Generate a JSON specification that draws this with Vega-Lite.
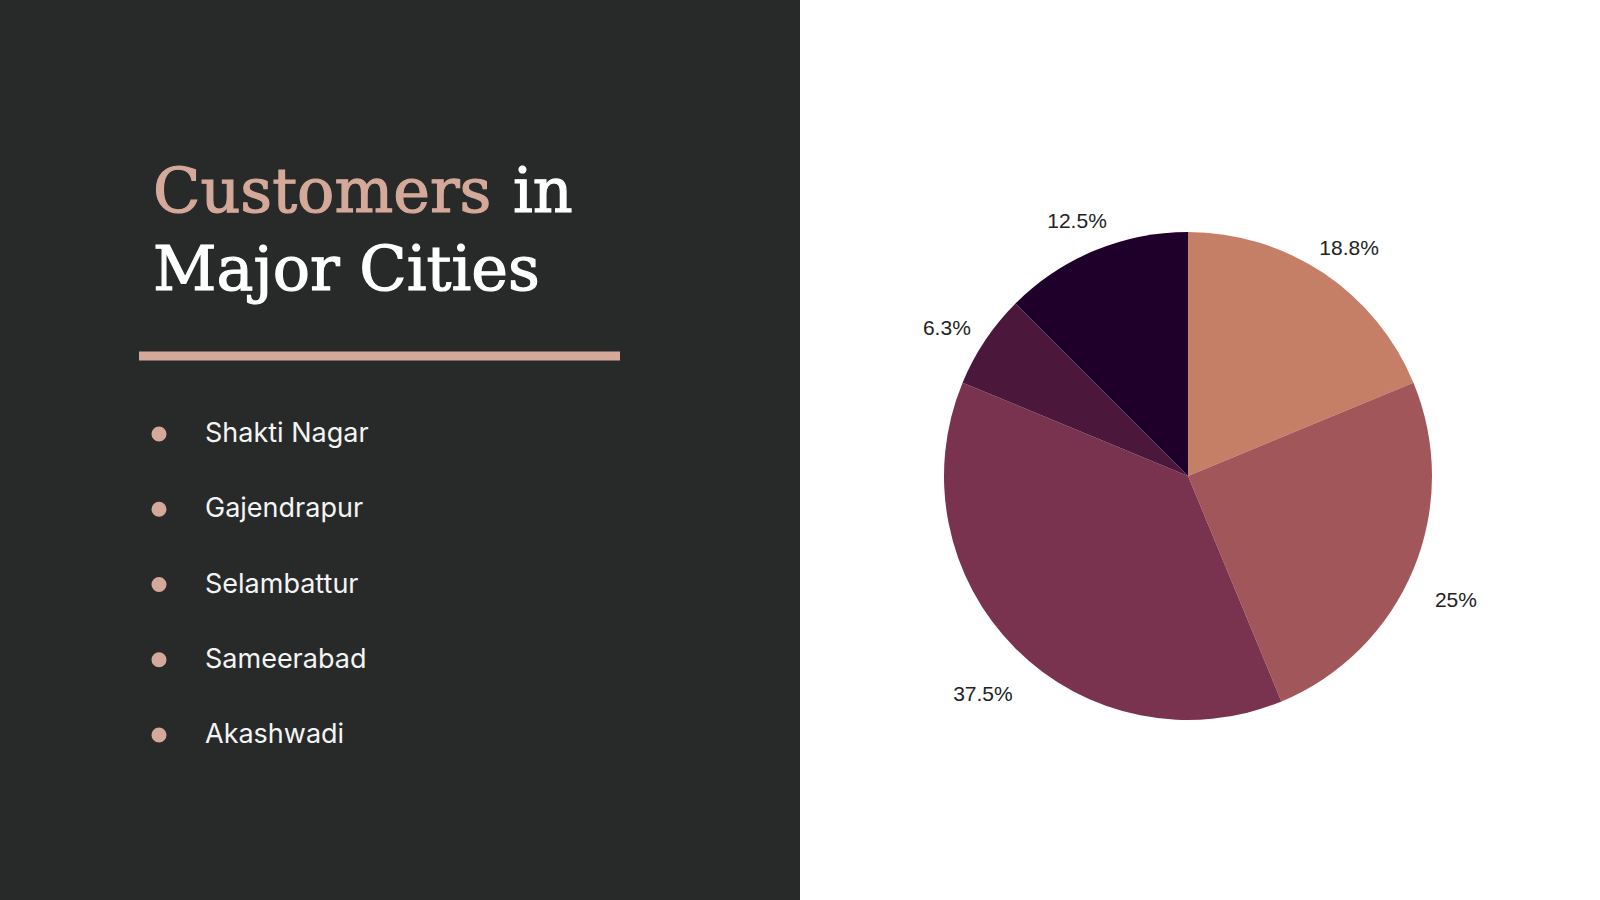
{
  "$schema": "https://vega.github.io/schema/vega-lite/v6.json",
  "description": "Customers in Major Cities: share of customers per city",
  "background": "white",
  "padding": 0,
  "spacing": 0,
  "bounds": "flush",
  "config": {"view": {"stroke": null}, "concat": {"spacing": 0}},
  "datasets": {
    "cities": [
      {"city": "Shakti Nagar", "share": 18.75, "label": "18.8%"},
      {"city": "Gajendrapur", "share": 25, "label": "25%"},
      {"city": "Selambattur", "share": 37.5, "label": "37.5%"},
      {"city": "Sameerabad", "share": 6.25, "label": "6.3%"},
      {"city": "Akashwadi", "share": 12.5, "label": "12.5%"}
    ]
  },
  "hconcat": [
    {
      "width": 800,
      "height": 900,
      "view": {"fill": "#282a2a", "stroke": null},
      "layer": [
        {
          "data": {"values": [{"text": "Customers"}]},
          "mark": {"type": "text", "font": "DejaVu Serif", "fontSize": 62, "align": "left", "baseline": "alphabetic", "color": "#d4a999", "stroke": "#d4a999", "strokeWidth": 1.2},
          "encoding": {"text": {"field": "text"}, "x": {"value": 153}, "y": {"value": 212}}
        },
        {
          "data": {"values": [{"text": "in"}]},
          "mark": {"type": "text", "font": "DejaVu Serif", "fontSize": 62, "align": "left", "baseline": "alphabetic", "color": "#ffffff", "stroke": "#ffffff", "strokeWidth": 1.2},
          "encoding": {"text": {"field": "text"}, "x": {"value": 513}, "y": {"value": 212}}
        },
        {
          "data": {"values": [{"text": "Major Cities"}]},
          "mark": {"type": "text", "font": "DejaVu Serif", "fontSize": 62, "align": "left", "baseline": "alphabetic", "color": "#ffffff", "stroke": "#ffffff", "strokeWidth": 1.2},
          "encoding": {"text": {"field": "text"}, "x": {"value": 153}, "y": {"value": 290}}
        },
        {
          "data": {"values": [{}]},
          "mark": {"type": "rule", "color": "#d4a999", "strokeWidth": 9},
          "encoding": {"x": {"value": 139}, "x2": {"value": 620}, "y": {"value": 356}}
        },
        {
          "data": {"name": "cities"},
          "mark": {"type": "circle", "size": 227, "opacity": 1, "color": "#d4a999"},
          "encoding": {
            "y": {"field": "city", "type": "nominal", "sort": null, "scale": {"type": "point", "range": [434, 735], "padding": 0}, "axis": null},
            "x": {"value": 159}
          }
        },
        {
          "data": {"name": "cities"},
          "mark": {"type": "text", "font": "Inter", "fontSize": 27, "align": "left", "baseline": "middle", "color": "#f4f4f4"},
          "encoding": {
            "y": {"field": "city", "type": "nominal", "sort": null, "axis": null},
            "x": {"value": 205},
            "text": {"field": "city"}
          }
        }
      ]
    },
    {
      "spacing": 0,
      "vconcat": [
        {
          "width": 776,
          "height": 52,
          "data": {"values": []},
          "mark": "point"
        },
        {
          "width": 776,
          "height": 848,
          "data": {"name": "cities"},
          "transform": [{"window": [{"op": "row_number", "as": "slice"}]}],
          "encoding": {
            "theta": {"field": "share", "type": "quantitative", "stack": true},
            "order": {"field": "slice", "type": "quantitative"},
            "color": {
              "field": "city",
              "type": "nominal",
              "scale": {
                "domain": ["Shakti Nagar", "Gajendrapur", "Selambattur", "Sameerabad", "Akashwadi"],
                "range": ["#c47f66", "#a15759", "#7a334f", "#4b183c", "#1e002b"]
              },
              "legend": null
            }
          },
          "layer": [
            {"mark": {"type": "arc", "outerRadius": 244}},
            {
              "mark": {"type": "text", "radius": 290, "dy": 14, "font": "Liberation Sans", "fontSize": 21, "align": "center", "baseline": "middle"},
              "encoding": {"text": {"field": "label"}, "fill": {"value": "#222222"}}
            }
          ]
        }
      ]
    }
  ]
}
